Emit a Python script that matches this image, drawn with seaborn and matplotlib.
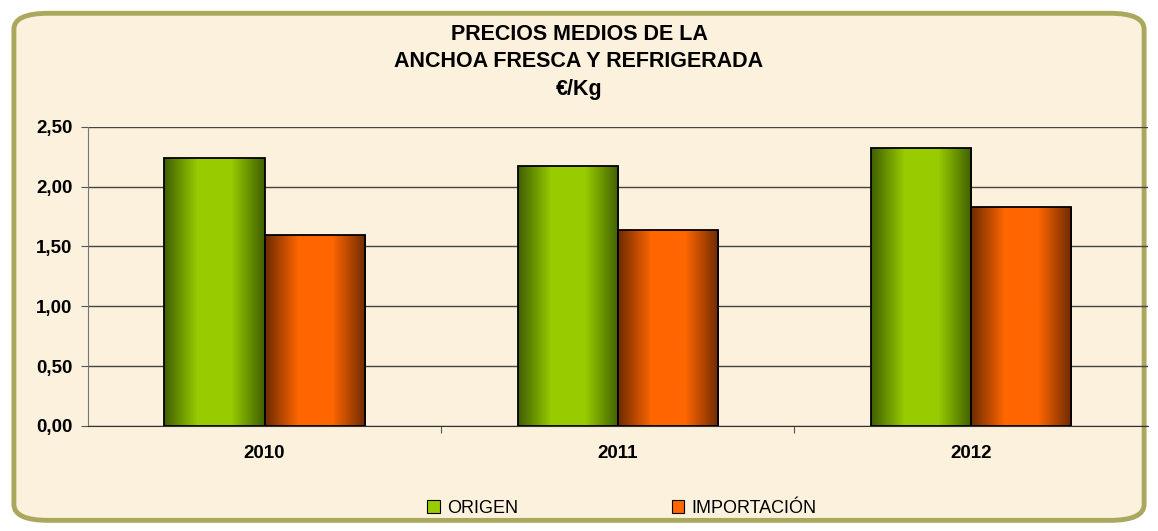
import numpy as np
import pandas as pd
import matplotlib
matplotlib.use('Agg')
import matplotlib.pyplot as plt
import seaborn as sns
from matplotlib.patches import FancyBboxPatch, Patch
from matplotlib.colors import LinearSegmentedColormap

# data
years = ['2010', '2011', '2012']
origen = [2.24, 2.17, 2.32]
importacion = [1.60, 1.64, 1.83]
series_names = ['ORIGEN', 'IMPORTACIÓN']
ytick_labels = ['0,00', '0,50', '1,00', '1,50', '2,00', '2,50']

df = pd.DataFrame({
    'year': years * 2,
    'value': origen + importacion,
    'serie': [series_names[0]] * 3 + [series_names[1]] * 3,
})

sns.set_style('white')
plt.rcParams['font.family'] = ['Liberation Sans', 'DejaVu Sans']
plt.rcParams['text.color'] = 'black'
plt.rcParams['xtick.color'] = 'black'
plt.rcParams['ytick.color'] = 'black'

bg = '#FBF1DC'
fig = plt.figure(figsize=(11.58, 5.31), dpi=100)
fig.patch.set_facecolor('white')

# rounded frame
frame = FancyBboxPatch((0.012, 0.02), 0.976, 0.955, boxstyle='round,pad=0,rounding_size=0.03',
                       transform=fig.transFigure, facecolor=bg, edgecolor='#A9A85C',
                       linewidth=3.5, zorder=-5)
fig.patches.append(frame)

ax = fig.add_axes([0.076, 0.198, 0.915, 0.563])
ax.set_facecolor('none')

palette = {'ORIGEN': '#99CC00', 'IMPORTACIÓN': '#FF6600'}
sns.barplot(data=df, x='year', y='value', hue='serie', palette=palette,
            width=0.567, gap=0, edgecolor='black', linewidth=1.3,
            saturation=1, legend=False, ax=ax)

# cylinder-like shading on each bar
grads = {
    'ORIGEN': LinearSegmentedColormap.from_list('g', ['#3F5F00', '#99CC00', '#99CC00', '#3F5F00']),
    'IMPORTACIÓN': LinearSegmentedColormap.from_list('o', ['#6E2A00', '#FF6600', '#FF6600', '#6E2A00']),
}
grad = np.linspace(0, 1, 256).reshape(1, -1)
for i, bar in enumerate(list(ax.patches)):
    name = series_names[i // 3]
    x0, y0 = bar.get_x(), bar.get_y()
    w, h = bar.get_width(), bar.get_height()
    im = ax.imshow(grad, cmap=grads[name], aspect='auto',
                   extent=[x0, x0 + w, y0, y0 + h], zorder=2.5)
    im.set_clip_path(bar)
    bar.set_facecolor('none')
    bar.set_zorder(3)

ax.set_xlim(-0.5, 2.5)
ax.set_ylim(0, 2.5)
ax.set_yticks(np.arange(0, 2.51, 0.5))
ax.set_yticklabels(ytick_labels, fontsize=13.5, fontweight='bold')
ax.set_xticks([0, 1, 2])
ax.set_xticklabels(years, fontsize=13.5, fontweight='bold')
ax.set_xticks([0.5, 1.5], minor=True)
ax.tick_params(axis='x', which='major', length=0, pad=14)
ax.tick_params(axis='x', which='minor', length=5, width=0.8, color='#555555', bottom=True)
ax.tick_params(axis='y', length=5, width=0.8, color='#555555', pad=6, left=True)
ax.set_xlabel('')
ax.set_ylabel('')
ax.grid(axis='y', color='#444444', linewidth=1)
ax.set_axisbelow(True)
for s in ['top', 'right']:
    ax.spines[s].set_visible(False)
ax.spines['left'].set_color('#777777')
ax.spines['bottom'].set_color('#333333')

fig.text(0.5, 0.925, 'PRECIOS MEDIOS DE LA', ha='center', va='baseline', fontsize=15.5, fontweight='bold')
fig.text(0.5, 0.874, 'ANCHOA FRESCA Y REFRIGERADA', ha='center', va='baseline', fontsize=15.5, fontweight='bold')
fig.text(0.5, 0.821, '€/Kg', ha='center', va='baseline', fontsize=15.5, fontweight='bold')

handles = [Patch(facecolor=palette[n], edgecolor='black', linewidth=0.8) for n in series_names]
leg = fig.legend(handles, series_names, loc='center', bbox_to_anchor=(0.537, 0.043), ncol=2,
                 frameon=False, fontsize=13, handlelength=0.7, handleheight=0.7,
                 columnspacing=8.5, handletextpad=0.4)

fig.savefig('out.png', dpi=100, facecolor=fig.get_facecolor())
